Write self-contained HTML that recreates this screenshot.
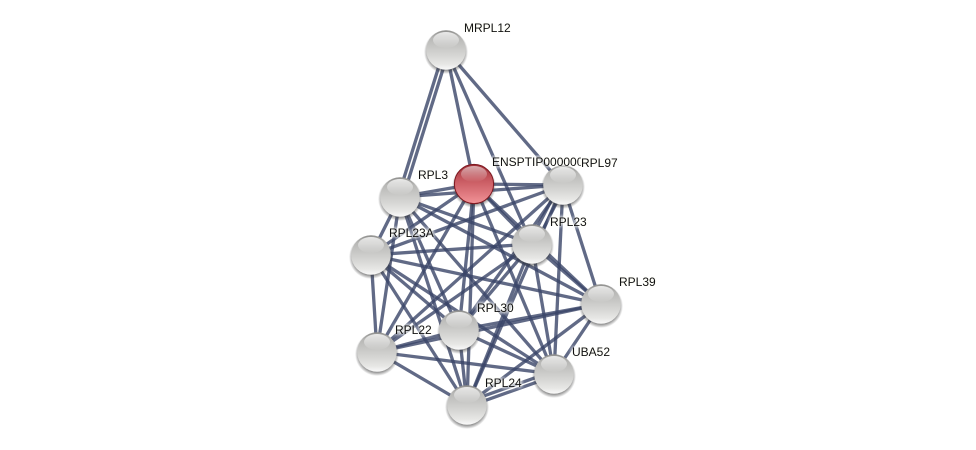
<!DOCTYPE html>
<html>
<head>
<meta charset="utf-8">
<style>
html,body{margin:0;padding:0;background:#fff;width:976px;height:450px;overflow:hidden}
svg{display:block;position:absolute;left:0;top:0}
.l{position:absolute;font-family:"Liberation Sans",sans-serif;font-size:12px;line-height:14px;color:#111;white-space:nowrap;text-shadow:0 0 3px #fffef8,0 0 3px #fffef8,0 0 4px #fffef8,0 0 5px #fffef8}
.e line{stroke:#3a4568;stroke-opacity:.8;stroke-width:3.3}
</style>
</head>
<body>
<svg width="976" height="450" viewBox="0 0 976 450" xmlns="http://www.w3.org/2000/svg">
<defs>
<linearGradient id="g" x1="0" y1="0" x2="0" y2="1">
<stop offset="0" stop-color="#8e8e8c"/><stop offset=".2" stop-color="#b8b8b6"/><stop offset=".55" stop-color="#d0d0ce"/><stop offset=".85" stop-color="#e6e6e4"/><stop offset="1" stop-color="#fafafa"/>
</linearGradient>
<linearGradient id="rl" x1="0" y1="0" x2="0" y2="1">
<stop offset="0" stop-color="#9c2c34"/><stop offset=".35" stop-color="#c4555c"/><stop offset=".75" stop-color="#e07a80"/><stop offset="1" stop-color="#f29498"/>
</linearGradient>
<linearGradient id="hi" x1="0" y1="0" x2="0" y2="1">
<stop offset="0" stop-color="#fff" stop-opacity=".8"/><stop offset="1" stop-color="#fff" stop-opacity="0"/>
</linearGradient>
<radialGradient id="sh" cx="50%" cy="50%" r="50%">
<stop offset=".8" stop-color="#333" stop-opacity=".6"/><stop offset="1" stop-color="#333" stop-opacity="0"/>
</radialGradient>
<g id="n">
<circle cx="0" cy="2" r="22" fill="url(#sh)"/>
<circle r="19.8" fill="url(#g)"/>
<ellipse cx="0" cy="-10" rx="13" ry="8" fill="url(#hi)"/>
</g>
</defs>
<g class="e">
<line x1="444" y1="50" x2="398" y2="197"/><line x1="449" y1="50" x2="403" y2="197"/>
<line x1="446" y1="50" x2="474" y2="184"/><line x1="446" y1="50" x2="532" y2="244"/><line x1="446" y1="50" x2="563" y2="185"/>
<line x1="474" y1="184" x2="563" y2="185"/>
<line x1="474" y1="184" x2="400" y2="197"/>
<line x1="474" y1="184" x2="371" y2="255"/><line x1="474" y1="184" x2="532" y2="244"/>
<line x1="474" y1="184" x2="601" y2="304"/><line x1="474" y1="184" x2="459" y2="330"/>
<line x1="474" y1="184" x2="377" y2="352"/><line x1="474" y1="184" x2="554" y2="374"/>
<line x1="474" y1="184" x2="467" y2="405"/>
<line x1="563" y1="185" x2="400" y2="197"/><line x1="563" y1="185" x2="371" y2="255"/>
<line x1="560" y1="184" x2="529" y2="243"/><line x1="565" y1="186" x2="535" y2="245"/>
<line x1="563" y1="185" x2="601" y2="304"/><line x1="563" y1="185" x2="459" y2="330"/>
<line x1="563" y1="185" x2="377" y2="352"/><line x1="563" y1="185" x2="554" y2="374"/>
<line x1="563" y1="185" x2="467" y2="405"/>
<line x1="400" y1="197" x2="532" y2="244"/><line x1="400" y1="197" x2="371" y2="255"/>
<line x1="400" y1="197" x2="601" y2="304"/><line x1="400" y1="197" x2="459" y2="330"/>
<line x1="400" y1="197" x2="377" y2="352"/><line x1="400" y1="197" x2="554" y2="374"/>
<line x1="400" y1="197" x2="467" y2="405"/>
<line x1="532" y1="244" x2="371" y2="255"/><line x1="532" y1="244" x2="601" y2="304"/>
<line x1="532" y1="244" x2="459" y2="330"/>
<line x1="532" y1="244" x2="377" y2="352"/><line x1="532" y1="244" x2="554" y2="374"/>
<line x1="532" y1="244" x2="467" y2="405"/>
<line x1="371" y1="255" x2="601" y2="304"/><line x1="371" y1="255" x2="459" y2="330"/>
<line x1="371" y1="255" x2="377" y2="352"/><line x1="371" y1="255" x2="554" y2="374"/>
<line x1="371" y1="255" x2="467" y2="405"/>
<line x1="601" y1="304" x2="459" y2="330"/><line x1="601" y1="304" x2="377" y2="352"/>
<line x1="601" y1="304" x2="554" y2="374"/><line x1="601" y1="304" x2="467" y2="405"/>
<line x1="459" y1="330" x2="377" y2="352"/><line x1="459" y1="330" x2="554" y2="374"/>
<line x1="459" y1="330" x2="467" y2="405"/>
<line x1="377" y1="352" x2="554" y2="374"/><line x1="377" y1="352" x2="467" y2="405"/>
<line x1="554" y1="371" x2="467" y2="402"/><line x1="554" y1="376" x2="467" y2="407"/>
</g>
<use href="#n" x="446" y="50"/>
<use href="#n" x="563" y="185"/>
<use href="#n" x="400" y="197"/>
<use href="#n" x="532" y="244"/>
<use href="#n" x="371" y="255"/>
<use href="#n" x="601" y="304"/>
<use href="#n" x="459" y="330"/>
<use href="#n" x="377" y="352"/>
<use href="#n" x="554" y="374"/>
<use href="#n" x="467" y="405"/>
<circle cx="474" cy="186" r="22" fill="url(#sh)"/>
<circle cx="474" cy="184" r="19.6" fill="url(#rl)" stroke="#7d1820" stroke-width="1"/>
<ellipse cx="474" cy="174" rx="13" ry="8" fill="url(#hi)" opacity=".75"/>
</svg>
<div class="l" style="left:464px;top:21px">MRPL12</div>
<div class="l" style="left:418px;top:168px">RPL3</div>
<div class="l" style="left:492px;top:155px;width:89px;overflow:hidden;height:14px">ENSPTIP000000</div>
<div class="l" style="left:581px;top:156px">RPL97</div>
<div class="l" style="left:550px;top:215px">RPL23</div>
<div class="l" style="left:389px;top:226px">RPL23A</div>
<div class="l" style="left:619px;top:275px">RPL39</div>
<div class="l" style="left:477px;top:301px">RPL30</div>
<div class="l" style="left:395px;top:323px">RPL22</div>
<div class="l" style="left:572px;top:345px">UBA52</div>
<div class="l" style="left:485px;top:376px">RPL24</div>
</body>
</html>
